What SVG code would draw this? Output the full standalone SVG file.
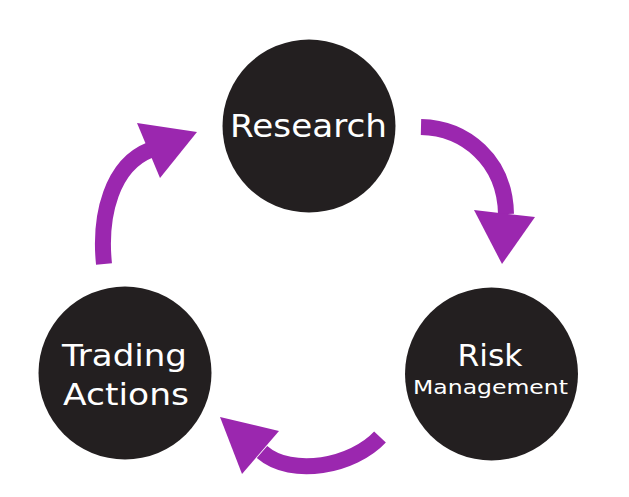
<svg xmlns="http://www.w3.org/2000/svg" width="629" height="497" viewBox="0 0 629 497">
<style>
.node circle{fill:#231f20}
.label{fill:#ffffff;font-family:"DejaVu Sans","Open Sans","Liberation Sans",sans-serif;text-anchor:middle}
.shaft{fill:none;stroke:#9b27af;stroke-width:16;stroke-linecap:butt}
.head{fill:#9b27af}
</style>
<rect width="629" height="497" fill="#ffffff"/>
<g id="connectors">
<g id="arrow-trading-research">
<path class="shaft" d="M104,264 C99,215 112,165 150,150"/>
<polygon class="head" points="137,123 197,132 160,178"/>
</g>
<g id="arrow-research-risk">
<path class="shaft" d="M421,127 C465,128 505,160 506,214"/>
<polygon class="head" points="474,210 535,217 502,264"/>
</g>
<g id="arrow-risk-trading">
<path class="shaft" d="M380,437 C353,466 292,478 262,452"/>
<polygon class="head" points="220,417 279,431 242,474"/>
</g>
</g>
<g id="node-research" class="node">
<circle cx="309" cy="126" r="86.5"/>
<text class="label" x="308.5" y="137" font-size="32" textLength="157" lengthAdjust="spacingAndGlyphs">Research</text>
</g>
<g id="node-trading" class="node">
<circle cx="125" cy="373" r="86.5"/>
<text class="label" x="124.5" y="366" font-size="31" textLength="125" lengthAdjust="spacingAndGlyphs">Trading</text>
<text class="label" x="126" y="405" font-size="31" textLength="126" lengthAdjust="spacingAndGlyphs">Actions</text>
</g>
<g id="node-risk" class="node">
<circle cx="491.5" cy="374" r="86.5"/>
<text class="label" x="490" y="366" font-size="30" textLength="65" lengthAdjust="spacingAndGlyphs">Risk</text>
<text class="label" x="490.5" y="394" font-size="19" textLength="155" lengthAdjust="spacingAndGlyphs">Management</text>
</g>
</svg>
